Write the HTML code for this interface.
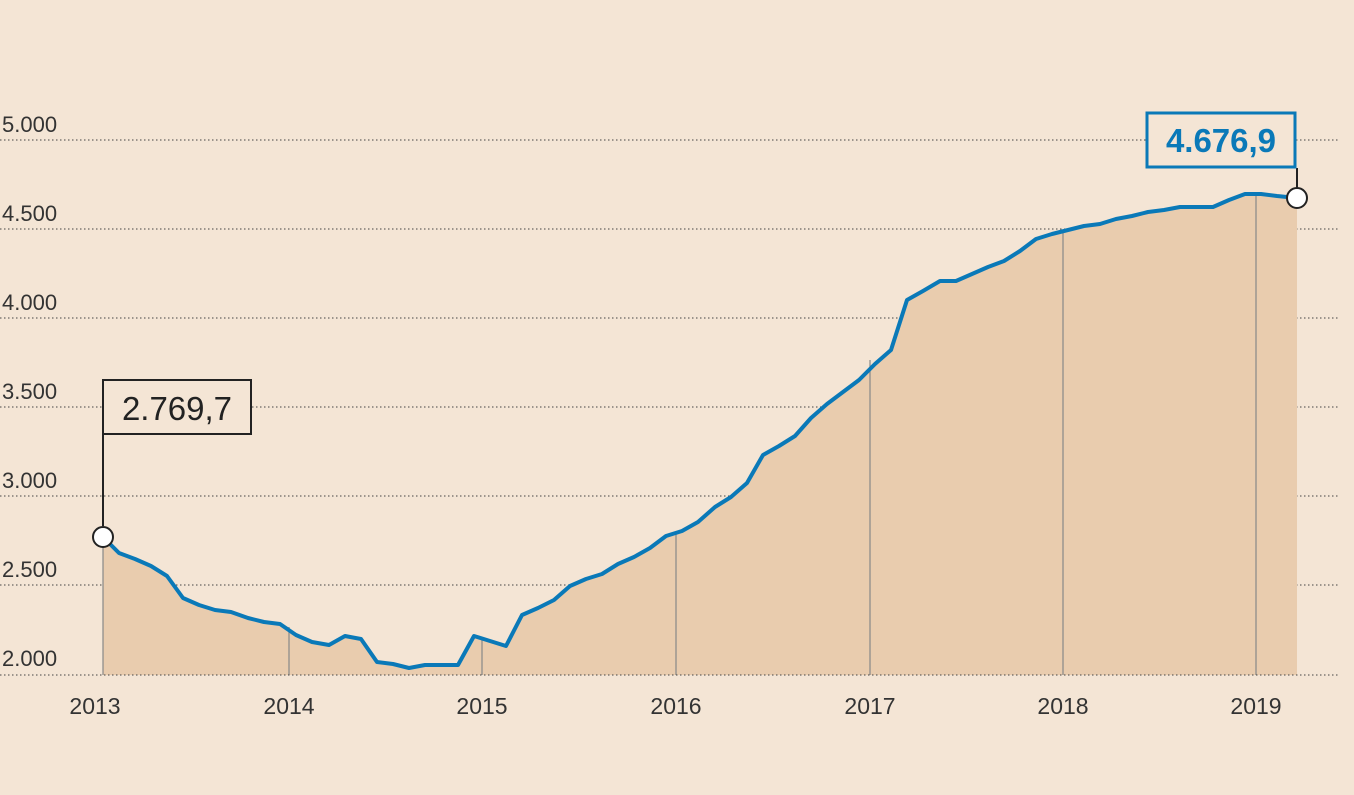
<!DOCTYPE html>
<html><head><meta charset="utf-8"><style>
html,body{margin:0;padding:0;background:#f4e5d5;}
svg{display:block;font-family:"Liberation Sans",sans-serif;}
</style></head><body>
<svg width="1354" height="795" viewBox="0 0 1354 795">
<rect width="1354" height="795" fill="#f4e5d5"/>
<g stroke="#444" stroke-width="1" stroke-dasharray="1.5,2.5">
<line x1="0" y1="140" x2="1340" y2="140"/>
<line x1="0" y1="229" x2="1340" y2="229"/>
<line x1="0" y1="318" x2="1340" y2="318"/>
<line x1="0" y1="407" x2="1340" y2="407"/>
<line x1="0" y1="496" x2="1340" y2="496"/>
<line x1="0" y1="585" x2="1340" y2="585"/>
</g>
<g font-size="22" fill="#333">
<text x="2" y="132">5.000</text>
<text x="2" y="221">4.500</text>
<text x="2" y="310">4.000</text>
<text x="2" y="399">3.500</text>
<text x="2" y="488">3.000</text>
<text x="2" y="577">2.500</text>
<text x="2" y="666">2.000</text>
</g>
<polygon fill="#e9ccae" points="103,675 103,537 119,553 135,559 151,566 167,576 183,598 199,605 215,610 231,612 248,618 264,622 280,624 296,635 312,642 329,645 345,636 361,639 377,662 393,664 409,668 425,665 441,665 458,665 474,636 490,641 506,646 522,615 538,608 554,600 570,586 586,579 602,574 618,564 634,557 650,548 666,536 682,531 698,522 715,507 731,497 747,483 763,455 779,446 795,436 811,418 827,404 843,392 859,380 875,364 891,350 907,300 923,291 940,281 956,281 972,274 988,267 1004,261 1020,251 1036,239 1052,234 1068,230 1084,226 1100,224 1116,219 1132,216 1148,212 1164,210 1180,207 1196,207 1213,207 1229,200 1245,194 1261,194 1277,196 1297,198 1297,675"/>
<g stroke="#888" stroke-width="1.2">
<line x1="103" y1="675" x2="103" y2="537"/>
<line x1="289" y1="675" x2="289" y2="627"/>
<line x1="482" y1="675" x2="482" y2="638"/>
<line x1="676" y1="675" x2="676" y2="534"/>
<line x1="870" y1="675" x2="870" y2="360"/>
<line x1="1063" y1="675" x2="1063" y2="230"/>
<line x1="1256" y1="675" x2="1256" y2="194"/>
</g>
<line x1="0" y1="675" x2="1340" y2="675" stroke="#444" stroke-width="1" stroke-dasharray="1.5,2.5"/>
<polyline fill="none" stroke="#0a79b8" stroke-width="4" stroke-linejoin="round" points="103,537 119,553 135,559 151,566 167,576 183,598 199,605 215,610 231,612 248,618 264,622 280,624 296,635 312,642 329,645 345,636 361,639 377,662 393,664 409,668 425,665 441,665 458,665 474,636 490,641 506,646 522,615 538,608 554,600 570,586 586,579 602,574 618,564 634,557 650,548 666,536 682,531 698,522 715,507 731,497 747,483 763,455 779,446 795,436 811,418 827,404 843,392 859,380 875,364 891,350 907,300 923,291 940,281 956,281 972,274 988,267 1004,261 1020,251 1036,239 1052,234 1068,230 1084,226 1100,224 1116,219 1132,216 1148,212 1164,210 1180,207 1196,207 1213,207 1229,200 1245,194 1261,194 1277,196 1297,198"/>
<g font-size="23" fill="#333" text-anchor="middle">
<text x="95" y="714">2013</text>
<text x="289" y="714">2014</text>
<text x="482" y="714">2015</text>
<text x="676" y="714">2016</text>
<text x="870" y="714">2017</text>
<text x="1063" y="714">2018</text>
<text x="1256" y="714">2019</text>
</g>
<line x1="103" y1="435" x2="103" y2="526" stroke="#222" stroke-width="2"/>
<rect x="103" y="380" width="148" height="54" fill="#f4e5d5" stroke="#222" stroke-width="2"/>
<text x="177" y="420" font-size="33" fill="#222" text-anchor="middle">2.769,7</text>
<circle cx="103" cy="537" r="10" fill="#fff" stroke="#222" stroke-width="2"/>
<line x1="1297" y1="168" x2="1297" y2="188" stroke="#222" stroke-width="2"/>
<rect x="1147" y="113" width="148" height="54" fill="#f4e5d5" stroke="#0a79b8" stroke-width="3"/>
<text x="1221" y="152" font-size="33" font-weight="bold" fill="#0a79b8" text-anchor="middle">4.676,9</text>
<circle cx="1297" cy="198" r="10" fill="#fff" stroke="#222" stroke-width="2"/>
</svg>
</body></html>
